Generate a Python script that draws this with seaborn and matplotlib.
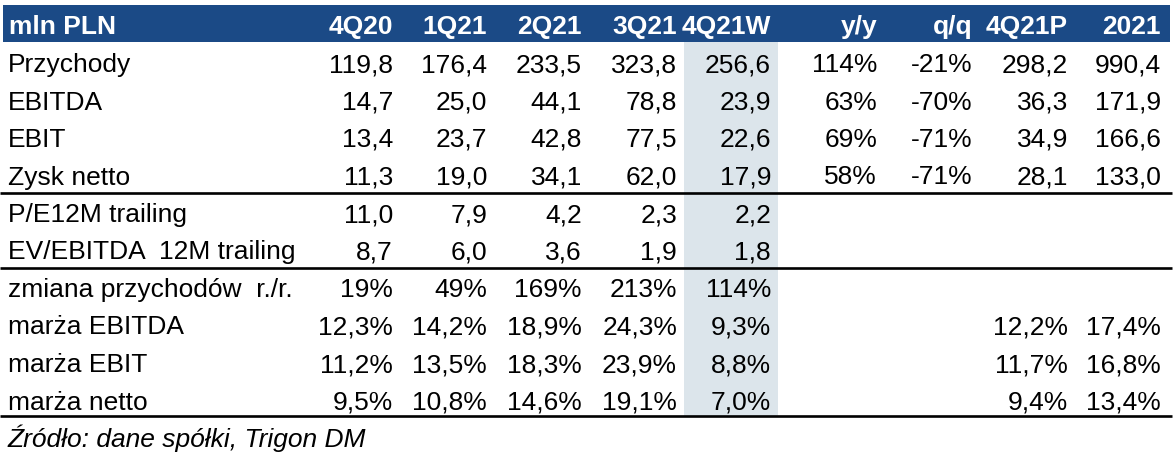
import matplotlib
matplotlib.use("Agg")
import matplotlib.pyplot as plt
import seaborn as sns

# column headers and row labels
columns = ["4Q20", "1Q21", "2Q21", "3Q21", "4Q21W", "y/y", "q/q", "4Q21P", "2021"]
row_labels = ["Przychody", "EBITDA", "EBIT", "Zysk netto",
              "P/E12M trailing", "EV/EBITDA  12M trailing",
              "zmiana przychodów  r./r.", "marża EBITDA", "marża EBIT", "marża netto"]

# values (mln PLN, y/y and q/q in %)
przychody = [119.8, 176.4, 233.5, 323.8, 256.6, 114, -21, 298.2, 990.4]
ebitda = [14.7, 25.0, 44.1, 78.8, 23.9, 63, -70, 36.3, 171.9]
ebit = [13.4, 23.7, 42.8, 77.5, 22.6, 69, -71, 34.9, 166.6]
zysk_netto = [11.3, 19.0, 34.1, 62.0, 17.9, 58, -71, 28.1, 133.0]
pe_12m = [11.0, 7.9, 4.2, 2.3, 2.2, None, None, None, None]
ev_ebitda_12m = [8.7, 6.0, 3.6, 1.9, 1.8, None, None, None, None]
zmiana_rr = [19, 49, 169, 213, 114, None, None, None, None]
marza_ebitda = [12.3, 14.2, 18.9, 24.3, 9.3, None, None, 12.2, 17.4]
marza_ebit = [11.2, 13.5, 18.3, 23.9, 8.8, None, None, 11.7, 16.8]
marza_netto = [9.5, 10.8, 14.6, 19.1, 7.0, None, None, 9.4, 13.4]

source = "Źródło: dane spółki, Trigon DM"

rows = [przychody, ebitda, ebit, zysk_netto, pe_12m, ev_ebitda_12m,
        zmiana_rr, marza_ebitda, marza_ebit, marza_netto]
row_kind = ["num", "num", "num", "num", "num", "num", "pct0", "pct1", "pct1", "pct1"]


def fmt(v, kind, col):
    if v is None:
        return ""
    if kind == "num" and columns[col] in ("y/y", "q/q"):
        kind = "pct0"
    if kind == "pct0":
        return f"{v:.0f}%"
    if kind == "pct1":
        return f"{v:.1f}%".replace(".", ",")
    return f"{v:.1f}".replace(".", ",")


sns.set_theme(style="white")
plt.rcParams["font.family"] = ["Liberation Sans", "DejaVu Sans"]

# layout (pixels)
col_right = [393, 487, 582, 677, 771, 877, 973, 1068, 1161]
row_y0 = 62
row_step = 37.5
fs = 19
blue = "#1b4a86"
shade = "#dce5eb"

fig = plt.figure(figsize=(11.76, 4.54), dpi=100)
ax = fig.add_axes([0, 0, 1, 1])
ax.set_xlim(0, 1176)
ax.set_ylim(454, 0)
ax.axis("off")

# header band
ax.fill_between([3, 1170], 5, 42, color=blue, lw=0)
ax.text(9, 24 + 10, "mln PLN", color="white", fontsize=fs, fontweight="bold", va="baseline")
for x, c in zip(col_right, columns):
    ax.text(x, 24 + 10, c, color="white", fontsize=fs, fontweight="bold", ha="right", va="baseline")

# highlighted column
ax.fill_between([684, 778], 42, 416, color=shade, lw=0)

for i, (lab, vals, kind) in enumerate(zip(row_labels, rows, row_kind)):
    y = row_y0 + i * row_step + 10
    ax.text(8, y, lab, fontsize=fs, color="black", va="baseline")
    for j, v in enumerate(vals):
        ax.text(col_right[j], y, fmt(v, kind, j), fontsize=fs, color="black",
                ha="right", va="baseline")

for y in [193, 268, 416]:
    ax.plot([0, 1172], [y, y], color="black", lw=1.9, solid_capstyle="butt")

ax.text(8, 447, source, fontsize=fs, style="italic", color="black", va="baseline")

fig.savefig("out.png", dpi=100)
